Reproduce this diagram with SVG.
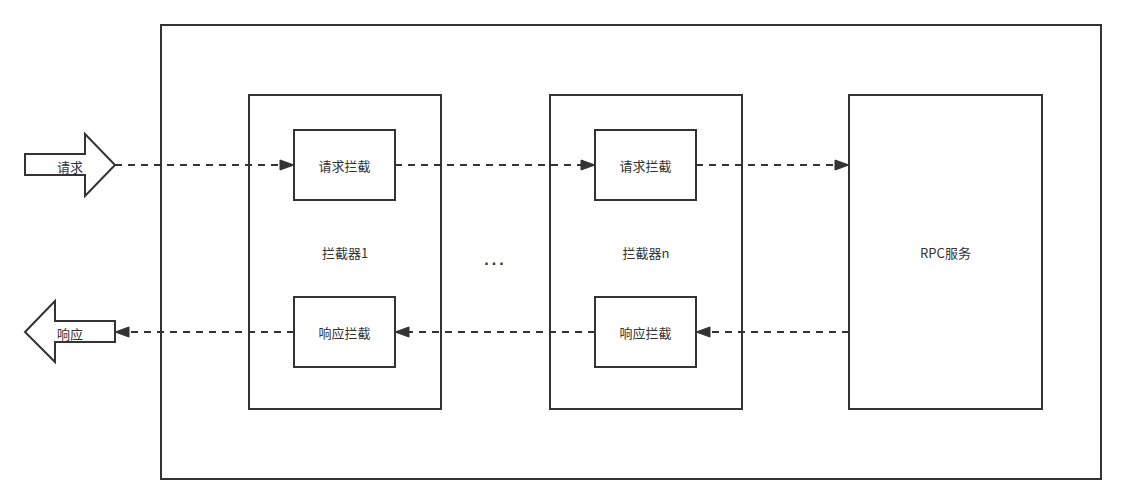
<svg xmlns="http://www.w3.org/2000/svg" width="1126" height="504" viewBox="0 0 1126 504">
<style>
.box{fill:#fff;stroke:#333;stroke-width:2}
.t{font-family:"Noto Sans CJK SC","Liberation Sans",sans-serif;font-size:13px;fill:#333;text-anchor:middle;dominant-baseline:central}
.c{fill:none;stroke:#333;stroke-width:2;stroke-dasharray:7 6;marker-end:url(#ah)}
</style>
<defs>
<marker id="ah" markerUnits="userSpaceOnUse" markerWidth="15" markerHeight="12" refX="14" refY="5" orient="auto" overflow="visible">
<path d="M0,0 L14,5 L0,10 z" fill="#333" stroke="#333" stroke-width="1"/>
</marker>
</defs>
<rect width="1126" height="504" fill="#fff"/>
<g id="outer"><rect class="box" x="161" y="25" width="940" height="454"/></g>
<g id="interceptor1"><rect class="box" x="249" y="95" width="192" height="314"/><text class="t" x="345" y="252">拦截器1</text></g>
<g id="interceptorn"><rect class="box" x="550" y="95" width="192" height="314"/><text class="t" x="646" y="252">拦截器n</text></g>
<g id="rpc"><rect class="box" x="849" y="95" width="193" height="314"/><text class="t" x="945.5" y="252">RPC服务</text></g>
<g id="dots"><text x="495.5" y="265" style="font-family:'Liberation Sans',sans-serif;font-size:16px;font-weight:bold;letter-spacing:3px;fill:#333;text-anchor:middle">...</text></g>
<g id="req1"><rect class="box" x="294" y="130" width="101" height="70"/><text class="t" x="344.5" y="165">请求拦截</text></g>
<g id="resp1"><rect class="box" x="294" y="297" width="101" height="70"/><text class="t" x="344.5" y="332">响应拦截</text></g>
<g id="reqn"><rect class="box" x="595" y="130" width="101" height="70"/><text class="t" x="645.5" y="165">请求拦截</text></g>
<g id="respn"><rect class="box" x="595" y="297" width="101" height="70"/><text class="t" x="645.5" y="332">响应拦截</text></g>
<g id="request"><polygon class="box" points="25,154 85,154 85,134 115,165 85,196 85,175 25,175"/><text class="t" x="70" y="166">请求</text></g>
<g id="response"><polygon class="box" points="25,332 55,301 55,321 115,321 115,342 55,342 55,362"/><text class="t" x="70" y="333">响应</text></g>
<g id="connectors">
<line class="c" x1="115" y1="165" x2="294" y2="165"/>
<line class="c" x1="395" y1="165" x2="595" y2="165"/>
<line class="c" x1="696" y1="165" x2="849" y2="165"/>
<line class="c" x1="849" y1="332" x2="696" y2="332"/>
<line class="c" x1="595" y1="332" x2="395" y2="332"/>
<line class="c" x1="294" y1="332" x2="115" y2="332"/>
</g>
</svg>
